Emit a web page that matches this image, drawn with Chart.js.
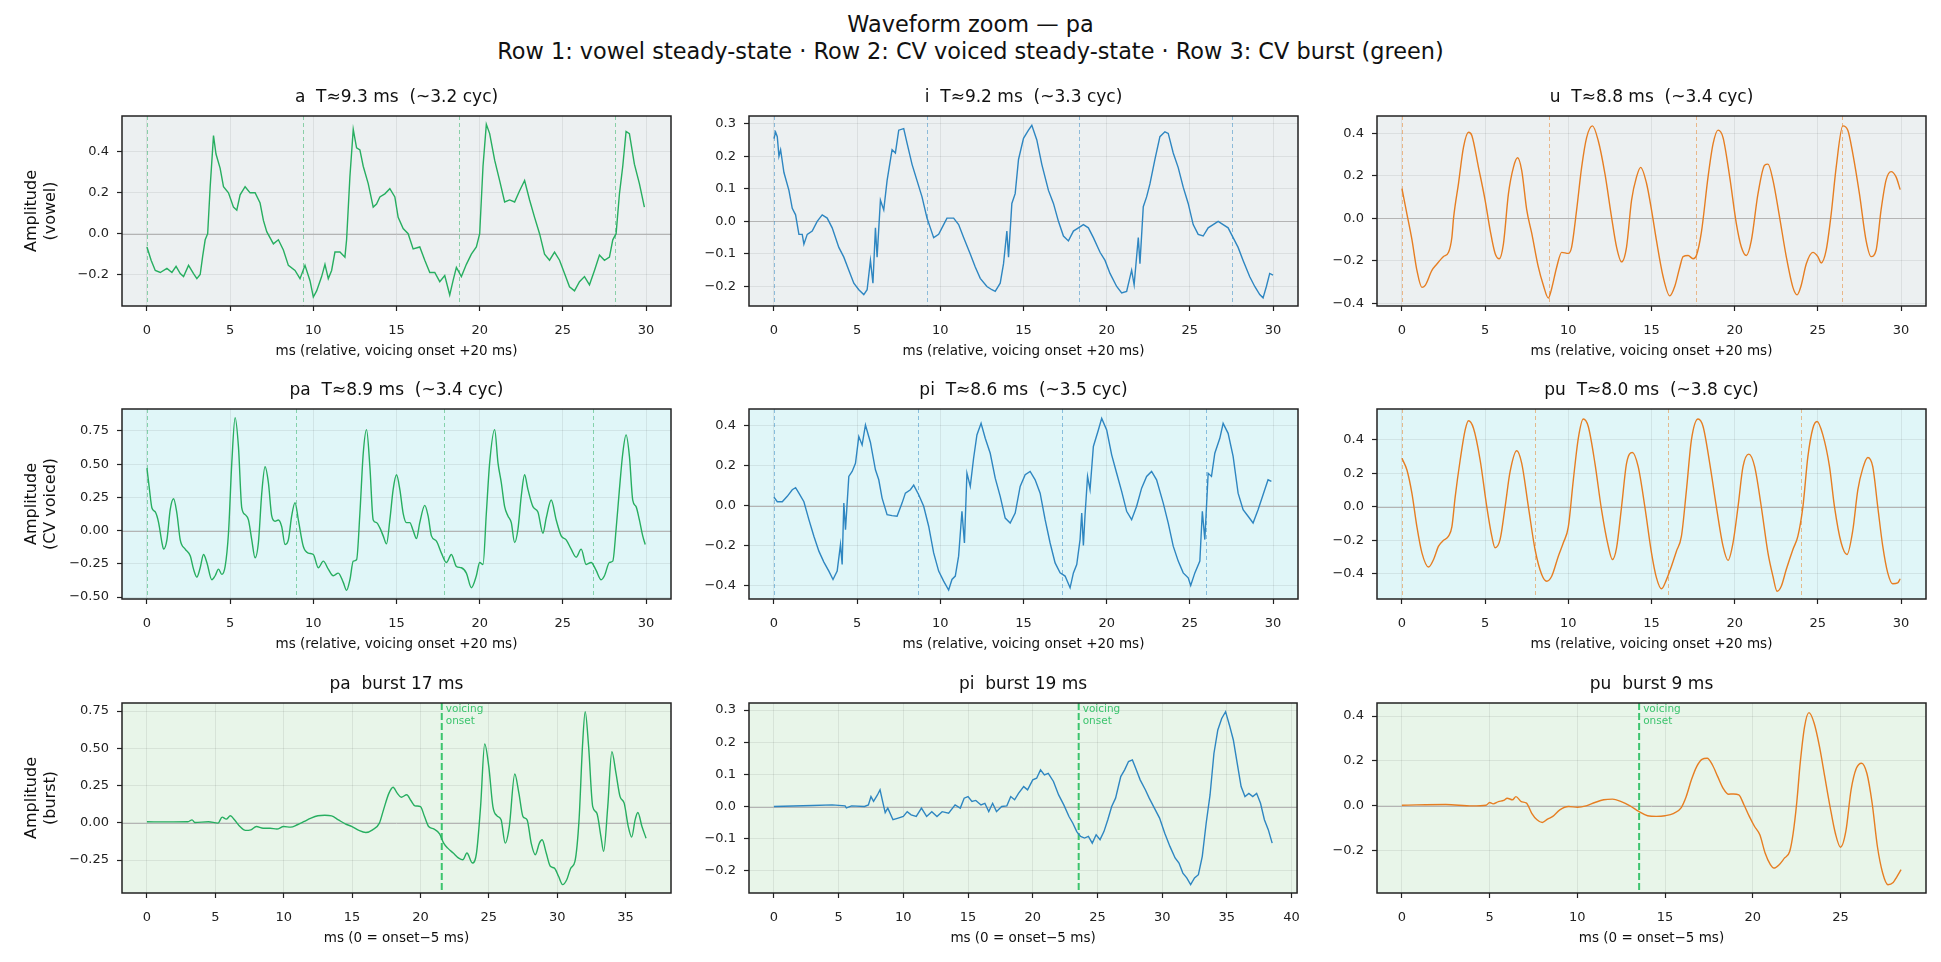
<!DOCTYPE html>
<html>
<head>
<meta charset="utf-8">
<script src="https://cdn.jsdelivr.net/npm/chart.js@4.4.1/dist/chart.umd.min.js"></script>
<style>
  body { margin: 0; background: #fff; width: 1941px; height: 962px; position: relative; overflow: hidden;
         font-family: "DejaVu Sans", sans-serif; color: #111; }
  .sup { position: absolute; left: 0; width: 1941px; text-align: center; font-size: 22.4px; line-height: 26px; }
  canvas { position: absolute; }
</style>
</head>
<body>
<div class="sup" style="top:11px">Waveform zoom — pa</div>
<div class="sup" style="top:38px">Row 1: vowel steady-state · Row 2: CV voiced steady-state · Row 3: CV burst (green)</div>

<script>
// ---- data: [ms, amplitude] ----
const vowelA = [[0,-0.065],[0.25,-0.13],[0.5,-0.18],[0.8,-0.19],[1.2,-0.17],[1.5,-0.19],[1.75,-0.16],[2.0,-0.195],[2.2,-0.21],[2.5,-0.155],[2.8,-0.195],[3.0,-0.22],[3.2,-0.2],[3.35,-0.11],[3.5,-0.03],[3.65,0],[3.8,0.23],[4.0,0.48],[4.15,0.39],[4.4,0.32],[4.6,0.23],[4.9,0.2],[5.2,0.13],[5.4,0.115],[5.6,0.19],[5.9,0.23],[6.2,0.2],[6.5,0.2],[6.8,0.15],[7.0,0.065],[7.2,0.01],[7.6,-0.05],[7.9,-0.03],[8.2,-0.08],[8.5,-0.155],[8.9,-0.18],[9.2,-0.22],[9.5,-0.155],[9.8,-0.23],[10.0,-0.31],[10.2,-0.28],[10.5,-0.21],[10.7,-0.15],[10.9,-0.22],[11.1,-0.18],[11.3,-0.09],[11.6,-0.09],[11.9,-0.115],[12.0,-0.03],[12.2,0.28],[12.4,0.51],[12.6,0.42],[12.8,0.41],[13.0,0.33],[13.3,0.245],[13.6,0.13],[13.8,0.145],[14.0,0.18],[14.3,0.195],[14.6,0.22],[14.9,0.18],[15.1,0.08],[15.4,0.025],[15.7,0],[16.0,-0.075],[16.4,-0.065],[16.7,-0.13],[17.0,-0.19],[17.3,-0.19],[17.6,-0.235],[17.9,-0.205],[18.2,-0.3],[18.4,-0.23],[18.6,-0.165],[18.9,-0.21],[19.2,-0.15],[19.5,-0.1],[19.8,-0.065],[20.0,0],[20.2,0.33],[20.4,0.535],[20.6,0.49],[20.9,0.36],[21.2,0.26],[21.5,0.155],[21.8,0.165],[22.1,0.155],[22.4,0.21],[22.7,0.26],[23.0,0.165],[23.3,0.08],[23.6,0],[23.9,-0.1],[24.2,-0.13],[24.5,-0.09],[24.8,-0.13],[25.1,-0.195],[25.4,-0.26],[25.7,-0.28],[26.0,-0.235],[26.3,-0.21],[26.6,-0.25],[26.9,-0.18],[27.2,-0.105],[27.5,-0.13],[27.8,-0.115],[28.0,-0.03],[28.2,0],[28.4,0.195],[28.6,0.33],[28.8,0.5],[29.0,0.49],[29.3,0.34],[29.6,0.245],[29.9,0.13]];

const vowelI = [[0,0.254],[0.1,0.274],[0.2,0.26],[0.3,0.2],[0.4,0.22],[0.6,0.15],[0.9,0.095],[1.1,0.04],[1.3,0.02],[1.5,-0.04],[1.7,-0.04],[1.8,-0.07],[2.0,-0.04],[2.3,-0.03],[2.6,0],[2.9,0.02],[3.2,0.01],[3.5,-0.02],[3.9,-0.08],[4.2,-0.11],[4.5,-0.15],[4.8,-0.19],[5.1,-0.21],[5.4,-0.225],[5.6,-0.21],[5.8,-0.12],[5.95,-0.19],[6.1,-0.02],[6.2,-0.11],[6.4,0.065],[6.6,0.035],[6.8,0.125],[7.1,0.22],[7.3,0.21],[7.5,0.28],[7.8,0.285],[8.0,0.24],[8.3,0.175],[8.6,0.125],[8.9,0.075],[9.2,0.01],[9.4,-0.02],[9.6,-0.05],[9.9,-0.04],[10.2,-0.01],[10.4,0.01],[10.8,0.01],[11.1,-0.01],[11.4,-0.05],[11.8,-0.1],[12.1,-0.14],[12.4,-0.175],[12.8,-0.2],[13.1,-0.21],[13.3,-0.215],[13.6,-0.19],[13.8,-0.13],[14.0,-0.03],[14.1,-0.11],[14.3,0.055],[14.5,0.085],[14.7,0.19],[15.0,0.255],[15.3,0.28],[15.5,0.295],[15.8,0.25],[16.1,0.175],[16.5,0.095],[16.8,0.055],[17.1,0],[17.4,-0.045],[17.7,-0.06],[18.0,-0.03],[18.3,-0.02],[18.6,-0.01],[18.9,-0.02],[19.2,-0.05],[19.6,-0.095],[19.9,-0.12],[20.2,-0.16],[20.6,-0.2],[20.9,-0.22],[21.2,-0.215],[21.5,-0.15],[21.65,-0.195],[21.9,-0.05],[22.0,-0.13],[22.2,0.045],[22.4,0.075],[22.6,0.115],[22.9,0.19],[23.2,0.26],[23.5,0.275],[23.7,0.27],[24.0,0.21],[24.3,0.165],[24.6,0.105],[24.9,0.055],[25.2,-0.01],[25.5,-0.04],[25.8,-0.045],[26.1,-0.02],[26.4,-0.01],[26.7,0],[27.0,-0.01],[27.3,-0.02],[27.6,-0.05],[27.9,-0.08],[28.2,-0.12],[28.6,-0.17],[28.9,-0.2],[29.2,-0.225],[29.4,-0.235],[29.6,-0.2],[29.8,-0.16],[30.0,-0.165]];

const vowelU = [[0,0.14],[0.3,0.02],[0.6,-0.1],[0.9,-0.245],[1.2,-0.325],[1.4,-0.315],[1.8,-0.245],[2.1,-0.215],[2.5,-0.18],[2.8,-0.16],[3.0,-0.09],[3.1,0],[3.4,0.165],[3.7,0.335],[4.0,0.405],[4.2,0.39],[4.6,0.24],[5.0,0.085],[5.3,-0.055],[5.6,-0.165],[5.85,-0.19],[6.1,-0.12],[6.4,0.115],[6.7,0.24],[6.95,0.285],[7.2,0.225],[7.5,0.04],[7.8,-0.07],[8.2,-0.23],[8.5,-0.315],[8.8,-0.375],[9.0,-0.33],[9.3,-0.23],[9.6,-0.16],[10.0,-0.165],[10.2,-0.135],[10.5,0.04],[10.8,0.24],[11.1,0.38],[11.45,0.435],[11.8,0.365],[12.2,0.21],[12.6,0.005],[12.9,-0.135],[13.2,-0.205],[13.5,-0.135],[13.8,0.085],[14.1,0.195],[14.35,0.24],[14.7,0.165],[15.0,0.04],[15.3,-0.105],[15.7,-0.275],[16.1,-0.365],[16.4,-0.32],[16.7,-0.23],[16.9,-0.18],[17.2,-0.175],[17.5,-0.19],[17.7,-0.175],[18.0,-0.065],[18.4,0.195],[18.7,0.35],[19.0,0.415],[19.3,0.38],[19.7,0.195],[20.1,-0.025],[20.4,-0.135],[20.7,-0.175],[21.0,-0.105],[21.4,0.115],[21.8,0.25],[22.0,0.255],[22.3,0.18],[22.7,0.005],[23.1,-0.18],[23.5,-0.325],[23.75,-0.36],[24.0,-0.315],[24.3,-0.215],[24.7,-0.16],[25.0,-0.18],[25.2,-0.21],[25.5,-0.15],[25.8,0.02],[26.1,0.24],[26.5,0.435],[26.8,0.415],[27.1,0.305],[27.5,0.115],[27.9,-0.105],[28.2,-0.18],[28.5,-0.15],[28.8,0.04],[29.1,0.18],[29.4,0.22],[29.7,0.195],[29.95,0.135]];

const voicedPa = [[0,0.47],[0.15,0.31],[0.3,0.17],[0.5,0.14],[0.7,0.06],[0.9,-0.09],[1.0,-0.14],[1.2,-0.07],[1.4,0.16],[1.6,0.24],[1.8,0.13],[2.0,-0.07],[2.3,-0.14],[2.6,-0.19],[2.8,-0.29],[3.0,-0.35],[3.2,-0.28],[3.4,-0.18],[3.6,-0.24],[3.9,-0.37],[4.1,-0.34],[4.3,-0.29],[4.5,-0.33],[4.7,-0.27],[4.9,-0.02],[5.1,0.51],[5.3,0.85],[5.5,0.63],[5.7,0.17],[5.9,0.12],[6.1,0.08],[6.3,-0.07],[6.5,-0.205],[6.7,-0.09],[6.9,0.28],[7.1,0.48],[7.3,0.36],[7.5,0.11],[7.7,0.07],[7.9,0.08],[8.1,0.03],[8.3,-0.105],[8.5,-0.07],[8.7,0.11],[8.9,0.21],[9.1,0.08],[9.4,-0.12],[9.7,-0.17],[10.0,-0.18],[10.3,-0.28],[10.6,-0.23],[10.9,-0.29],[11.2,-0.34],[11.5,-0.32],[11.8,-0.39],[12.0,-0.45],[12.2,-0.37],[12.4,-0.23],[12.6,-0.22],[12.8,0.13],[13.0,0.58],[13.2,0.76],[13.4,0.48],[13.6,0.08],[13.8,0.06],[14.0,0.02],[14.2,-0.04],[14.4,-0.1],[14.6,0.08],[14.8,0.31],[15.0,0.42],[15.2,0.31],[15.4,0.13],[15.6,0.06],[15.8,0.06],[16.0,0],[16.2,-0.06],[16.4,0.06],[16.7,0.19],[16.9,0.11],[17.1,-0.04],[17.4,-0.08],[17.7,-0.17],[18.0,-0.24],[18.3,-0.18],[18.6,-0.27],[18.9,-0.28],[19.2,-0.32],[19.5,-0.43],[19.8,-0.34],[20.0,-0.24],[20.2,-0.255],[20.4,0.13],[20.6,0.51],[20.9,0.76],[21.1,0.51],[21.3,0.36],[21.5,0.18],[21.7,0.11],[21.9,0.06],[22.1,-0.09],[22.3,0.01],[22.5,0.26],[22.7,0.42],[22.9,0.31],[23.2,0.18],[23.5,0.14],[23.8,-0.02],[24.0,0.095],[24.3,0.23],[24.6,0.08],[24.9,-0.04],[25.2,-0.07],[25.5,-0.14],[25.8,-0.2],[26.1,-0.14],[26.4,-0.255],[26.7,-0.24],[27.0,-0.3],[27.3,-0.37],[27.5,-0.34],[27.8,-0.24],[28.0,-0.23],[28.2,0.01],[28.4,0.31],[28.6,0.58],[28.8,0.72],[29.0,0.56],[29.2,0.23],[29.4,0.18],[29.6,0.08],[29.8,-0.04],[29.95,-0.105]];

const voicedPi = [[0,0.043],[0.2,0.02],[0.5,0.02],[0.8,0.047],[1.1,0.08],[1.3,0.09],[1.5,0.063],[1.8,0.02],[2.1,-0.07],[2.4,-0.153],[2.7,-0.228],[3.0,-0.283],[3.3,-0.328],[3.55,-0.37],[3.8,-0.328],[4.0,-0.195],[4.1,-0.295],[4.2,0.013],[4.3,-0.12],[4.5,0.147],[4.7,0.172],[4.9,0.213],[5.1,0.347],[5.3,0.305],[5.5,0.405],[5.8,0.317],[6.1,0.18],[6.3,0.13],[6.5,0.038],[6.8,-0.045],[7.1,-0.05],[7.4,-0.053],[7.7,0.013],[7.9,0.063],[8.2,0.08],[8.4,0.103],[8.7,0.055],[9.0,-0.003],[9.3,-0.103],[9.6,-0.237],[9.9,-0.328],[10.2,-0.378],[10.5,-0.423],[10.7,-0.37],[10.9,-0.353],[11.1,-0.253],[11.3,-0.028],[11.45,-0.187],[11.6,0.163],[11.8,0.097],[12.0,0.238],[12.2,0.355],[12.45,0.413],[12.7,0.338],[13.0,0.263],[13.3,0.138],[13.6,0.047],[13.9,-0.062],[14.2,-0.087],[14.5,-0.037],[14.8,0.097],[15.1,0.155],[15.4,0.172],[15.7,0.13],[16.0,0.063],[16.3,-0.07],[16.6,-0.187],[16.9,-0.287],[17.2,-0.337],[17.5,-0.353],[17.8,-0.412],[18.0,-0.337],[18.2,-0.295],[18.4,-0.17],[18.5,-0.037],[18.6,-0.2],[18.7,-0.045],[18.85,0.147],[19.0,0.08],[19.2,0.297],[19.5,0.38],[19.7,0.438],[20.0,0.38],[20.3,0.255],[20.6,0.163],[20.9,0.072],[21.2,-0.028],[21.5,-0.07],[21.8,-0.003],[22.1,0.088],[22.4,0.147],[22.7,0.172],[23.0,0.13],[23.4,0.013],[23.7,-0.087],[24.0,-0.203],[24.3,-0.278],[24.6,-0.337],[24.9,-0.362],[25.05,-0.4],[25.3,-0.337],[25.6,-0.278],[25.75,-0.028],[25.9,-0.17],[26.1,0.163],[26.3,0.147],[26.5,0.263],[26.8,0.338],[27.0,0.413],[27.3,0.363],[27.6,0.247],[27.9,0.063],[28.2,-0.02],[28.5,-0.053],[28.8,-0.087],[29.1,-0.02],[29.4,0.055],[29.7,0.13],[29.9,0.122]];

const voicedPu = [[0,0.29],[0.3,0.22],[0.6,0.08],[0.9,-0.12],[1.2,-0.275],[1.6,-0.36],[1.9,-0.315],[2.2,-0.235],[2.5,-0.2],[2.8,-0.175],[3.0,-0.12],[3.2,0.06],[3.5,0.28],[3.8,0.46],[4.0,0.515],[4.3,0.47],[4.7,0.28],[5.1,0],[5.4,-0.175],[5.6,-0.245],[5.9,-0.195],[6.2,0],[6.5,0.21],[6.9,0.335],[7.2,0.26],[7.6,0],[8.0,-0.255],[8.4,-0.405],[8.7,-0.445],[9.0,-0.415],[9.4,-0.295],[9.7,-0.215],[10.0,-0.12],[10.3,0.16],[10.6,0.41],[10.9,0.525],[11.2,0.48],[11.6,0.26],[12.0,-0.02],[12.4,-0.235],[12.65,-0.315],[12.9,-0.245],[13.2,0],[13.5,0.26],[13.85,0.325],[14.2,0.24],[14.6,0],[15.0,-0.275],[15.3,-0.425],[15.6,-0.49],[15.9,-0.435],[16.2,-0.355],[16.5,-0.265],[16.8,-0.175],[17.1,0.1],[17.4,0.4],[17.8,0.525],[18.1,0.48],[18.5,0.26],[18.9,0],[19.3,-0.235],[19.6,-0.32],[19.9,-0.215],[20.2,0],[20.5,0.24],[20.85,0.315],[21.2,0.24],[21.6,0],[22.0,-0.275],[22.3,-0.415],[22.55,-0.505],[22.8,-0.475],[23.1,-0.375],[23.5,-0.255],[23.8,-0.175],[24.1,0],[24.4,0.3],[24.7,0.47],[24.95,0.51],[25.3,0.43],[25.7,0.24],[26.0,0],[26.4,-0.215],[26.75,-0.285],[27.1,-0.14],[27.4,0.1],[27.7,0.23],[28.0,0.295],[28.3,0.24],[28.6,0],[28.9,-0.235],[29.2,-0.395],[29.5,-0.46],[29.8,-0.455],[29.95,-0.43]];

const burstPa = [[0,0.007],[1.5,0.006],[3.0,0.007],[3.3,0.02],[3.5,0.002],[4.5,0.007],[5.2,-0.002],[5.5,0.038],[5.8,0.025],[6.1,0.047],[6.4,0.02],[6.8,-0.025],[7.2,-0.051],[7.6,-0.047],[8.0,-0.025],[8.5,-0.036],[9.0,-0.036],[9.5,-0.042],[10.0,-0.025],[10.5,-0.029],[11.0,-0.013],[11.5,0.009],[12.0,0.031],[12.5,0.047],[13.0,0.051],[13.5,0.047],[14.0,0.02],[14.5,-0.007],[15.0,-0.025],[15.5,-0.051],[16.0,-0.065],[16.5,-0.047],[17.0,-0.002],[17.3,0.087],[17.7,0.199],[18.0,0.239],[18.3,0.199],[18.6,0.172],[19.0,0.188],[19.3,0.15],[19.6,0.114],[20.0,0.109],[20.3,0.042],[20.6,-0.025],[21.0,-0.042],[21.4,-0.074],[21.7,-0.136],[22.0,-0.17],[22.4,-0.203],[22.8,-0.237],[23.1,-0.248],[23.4,-0.203],[23.8,-0.27],[24.1,-0.203],[24.4,0.109],[24.7,0.529],[25.0,0.377],[25.3,0.109],[25.6,0.047],[25.9,0.02],[26.2,-0.136],[26.5,-0.025],[26.9,0.328],[27.2,0.199],[27.5,0.042],[27.8,0.02],[28.1,-0.136],[28.4,-0.214],[28.7,-0.136],[28.9,-0.114],[29.2,-0.203],[29.5,-0.292],[29.8,-0.304],[30.1,-0.359],[30.4,-0.415],[30.7,-0.382],[31.0,-0.304],[31.3,-0.259],[31.6,0.02],[31.85,0.511],[32.05,0.746],[32.3,0.511],[32.6,0.109],[32.9,0.065],[33.2,-0.092],[33.4,-0.192],[33.7,0.109],[34.0,0.478],[34.3,0.333],[34.6,0.176],[34.9,0.132],[35.2,-0.025],[35.45,-0.096],[35.7,0.02],[35.9,0.069],[36.2,-0.025],[36.5,-0.103]];

const burstPi = [[0,0],[3.0,0.003],[4.5,0.005],[5.5,0.002],[5.6,-0.004],[6.0,0.002],[7.0,0],[7.3,0.005],[7.5,0.031],[7.7,0.016],[8.0,0.036],[8.2,0.052],[8.4,0.016],[8.6,-0.019],[8.8,-0.005],[9.2,-0.041],[9.6,-0.036],[10.0,-0.031],[10.3,-0.016],[10.6,-0.026],[11.0,-0.031],[11.4,-0.005],[11.8,-0.031],[12.2,-0.016],[12.6,-0.031],[13.0,-0.016],[13.5,-0.021],[14.0,0.005],[14.4,-0.005],[14.7,0.026],[15.0,0.031],[15.3,0.016],[15.6,0.019],[16.0,0.005],[16.3,0.01],[16.6,-0.016],[16.9,0.01],[17.2,-0.016],[17.6,0],[18.0,0.002],[18.3,0.031],[18.6,0.021],[18.9,0.041],[19.3,0.062],[19.6,0.052],[20.0,0.083],[20.3,0.088],[20.6,0.114],[20.9,0.098],[21.2,0.103],[21.6,0.078],[22.0,0.036],[22.4,0.005],[22.8,-0.031],[23.1,-0.052],[23.4,-0.078],[23.7,-0.093],[24.0,-0.098],[24.3,-0.093],[24.6,-0.114],[24.9,-0.088],[25.2,-0.103],[25.5,-0.078],[25.8,-0.041],[26.1,0],[26.4,0.026],[26.8,0.093],[27.1,0.114],[27.4,0.14],[27.7,0.145],[28.0,0.114],[28.3,0.083],[28.7,0.052],[29.0,0.026],[29.4,-0.005],[29.8,-0.036],[30.2,-0.083],[30.6,-0.124],[31.0,-0.16],[31.3,-0.176],[31.6,-0.207],[31.9,-0.222],[32.2,-0.243],[32.5,-0.222],[32.8,-0.212],[33.1,-0.155],[33.4,-0.052],[33.7,0.036],[34.0,0.165],[34.3,0.238],[34.6,0.274],[34.9,0.295],[35.2,0.253],[35.5,0.207],[35.8,0.134],[36.1,0.062],[36.4,0.031],[36.7,0.041],[37.0,0.031],[37.3,0.041],[37.6,0.01],[37.9,-0.041],[38.2,-0.072],[38.5,-0.114]];

const burstPu = [[0,0.003],[2.5,0.006],[4.0,0],[4.8,0.003],[5.0,0.015],[5.2,0.009],[5.5,0.019],[5.8,0.024],[6.0,0.034],[6.3,0.027],[6.5,0.041],[6.8,0.019],[7.1,0.012],[7.4,-0.033],[7.7,-0.062],[8.0,-0.074],[8.3,-0.059],[8.6,-0.047],[9.0,-0.018],[9.5,-0.003],[10.0,-0.006],[10.5,0],[11.0,0.015],[11.5,0.027],[12.0,0.03],[12.5,0.019],[13.0,0],[13.5,-0.025],[14.0,-0.044],[14.5,-0.047],[15.0,-0.044],[15.5,-0.033],[15.9,-0.01],[16.2,0.041],[16.5,0.116],[16.8,0.175],[17.1,0.207],[17.4,0.212],[17.7,0.182],[18.0,0.13],[18.3,0.079],[18.6,0.052],[18.9,0.053],[19.2,0.049],[19.5,0.004],[19.8,-0.047],[20.1,-0.092],[20.4,-0.129],[20.7,-0.21],[21.0,-0.262],[21.2,-0.277],[21.5,-0.262],[21.8,-0.233],[22.1,-0.203],[22.3,-0.121],[22.5,0.012],[22.7,0.19],[22.95,0.353],[23.2,0.415],[23.5,0.367],[23.8,0.264],[24.1,0.13],[24.4,-0.003],[24.7,-0.121],[25.0,-0.184],[25.3,-0.114],[25.6,0.071],[25.9,0.167],[26.2,0.19],[26.5,0.145],[26.8,0.012],[27.1,-0.181],[27.4,-0.299],[27.7,-0.351],[28.0,-0.341],[28.2,-0.317],[28.45,-0.284]];

// period markers (k * T) and voicing onset, in ms
const periodsA = [0, 9.38, 18.76, 28.14];
const periodsI = [0, 9.18, 18.35, 27.53];
const periodsU = [0, 8.83, 17.65, 26.48];
const periodsPa = [0, 8.93, 17.86, 26.8];
const periodsPi = [0, 8.67, 17.33, 25.98];
const periodsPu = [0, 8.0, 16.0, 24.0];
const onsetPa = 21.56, onsetPi = 23.55, onsetPu = 13.52;

// titles and tick labels
const titles = ['a  T\u22489.3 ms  (~3.2 cyc)', 'i  T\u22489.2 ms  (~3.3 cyc)', 'u  T\u22488.8 ms  (~3.4 cyc)',
                'pa  T\u22488.9 ms  (~3.4 cyc)', 'pi  T\u22488.6 ms  (~3.5 cyc)', 'pu  T\u22488.0 ms  (~3.8 cyc)',
                'pa  burst 17 ms', 'pi  burst 19 ms', 'pu  burst 9 ms'];
const rowYLabels = [['Amplitude', '(vowel)'], ['Amplitude', '(CV voiced)'], ['Amplitude', '(burst)']];
const xLabelSteady = 'ms (relative, voicing onset +20 ms)';
const xLabelBurst = 'ms (0 = onset\u22125 ms)';
const xTicks30 = [0, 5, 10, 15, 20, 25, 30];
const xTicksBurstPa = [0, 5, 10, 15, 20, 25, 30, 35];
const xTicksBurstPi = [0, 5, 10, 15, 20, 25, 30, 35, 40];
const xTicksBurstPu = [0, 5, 10, 15, 20, 25];
const yTicksA = [-0.2, 0, 0.2, 0.4];
const yTicksI = [-0.2, -0.1, 0, 0.1, 0.2, 0.3];
const yTicksU = [-0.4, -0.2, 0, 0.2, 0.4];
const yTicksPa = [-0.5, -0.25, 0, 0.25, 0.5, 0.75];
const yTicksPi = [-0.4, -0.2, 0, 0.2, 0.4];
const yTicksPu = [-0.4, -0.2, 0, 0.2, 0.4];
const yTicksBurstPa = [-0.25, 0, 0.25, 0.5, 0.75];
const yTicksBurstPi = [-0.2, -0.1, 0, 0.1, 0.2, 0.3];
const yTicksBurstPu = [-0.2, 0, 0.2, 0.4];

// ---- styling / layout ----
const GREEN = '#27ae60', BLUE = '#2e86c1', ORANGE = '#e67e22', ONSET = '#3cc46e';
const ROW_BG = ['#ecf0f1', '#e0f6f8', '#e8f5e9'];
const COL_LEFT = [122, 749, 1377], ROW_TOP = [116, 409, 703];
const PW = 549, PH = 190, TH = 28, XH = 58, RPAD = 14;

function alpha(hex, a) {
  const n = parseInt(hex.slice(1), 16);
  return `rgba(${n >> 16},${(n >> 8) & 255},${n & 255},${a})`;
}
function fmt(v, d) {
  const s = Math.abs(v).toFixed(d);
  return (v < -1e-9 ? '\u2212' : '') + s;
}

const panels = [
  {data: vowelA, color: GREEN, periods: periodsA, xr: [-1.5, 31.5], yr: [-0.354, 0.576], xt: xTicks30, yt: yTicksA, dec: 1, smooth: false},
  {data: vowelI, color: BLUE, periods: periodsI, xr: [-1.5, 31.5], yr: [-0.26, 0.3235], xt: xTicks30, yt: yTicksI, dec: 1, smooth: false},
  {data: vowelU, color: ORANGE, periods: periodsU, xr: [-1.5, 31.5], yr: [-0.4125, 0.4816], xt: xTicks30, yt: yTicksU, dec: 1, smooth: true},
  {data: voicedPa, color: GREEN, periods: periodsPa, xr: [-1.5, 31.5], yr: [-0.515, 0.915], xt: xTicks30, yt: yTicksPa, dec: 2, smooth: true},
  {data: voicedPi, color: BLUE, periods: periodsPi, xr: [-1.5, 31.5], yr: [-0.468, 0.485], xt: xTicks30, yt: yTicksPi, dec: 1, smooth: false},
  {data: voicedPu, color: ORANGE, periods: periodsPu, xr: [-1.5, 31.5], yr: [-0.551, 0.585], xt: xTicks30, yt: yTicksPu, dec: 1, smooth: true},
  {data: burstPa, color: GREEN, onset: onsetPa, xr: [-1.825, 38.325], yr: [-0.471, 0.804], xt: xTicksBurstPa, yt: yTicksBurstPa, dec: 2, smooth: true},
  {data: burstPi, color: BLUE, onset: onsetPi, xr: [-1.925, 40.425], yr: [-0.269, 0.322], xt: xTicksBurstPi, yt: yTicksBurstPi, dec: 1, smooth: false},
  {data: burstPu, color: ORANGE, onset: onsetPu, xr: [-1.42, 29.87], yr: [-0.388, 0.458], xt: xTicksBurstPu, yt: yTicksBurstPu, dec: 1, smooth: true}
];

Chart.defaults.font.family = '"DejaVu Sans", sans-serif';
Chart.defaults.color = '#222';

// background, zero line, period / onset markers and the four spines
function decor(p, bg) {
  return {
    id: 'decor',
    beforeDraw(chart) {
      const {ctx, chartArea: a} = chart;
      ctx.save();
      ctx.fillStyle = bg;
      ctx.fillRect(a.left, a.top, a.width, a.height);
      ctx.restore();
    },
    beforeDatasetsDraw(chart) {
      const {ctx, chartArea: a, scales: {x, y}} = chart;
      ctx.save();
      ctx.beginPath(); ctx.rect(a.left, a.top, a.width, a.height); ctx.clip();
      const y0 = Math.round(y.getPixelForValue(0)) + 0.5;
      ctx.strokeStyle = '#b4b4b4'; ctx.lineWidth = 1;
      ctx.beginPath(); ctx.moveTo(a.left, y0); ctx.lineTo(a.right, y0); ctx.stroke();
      if (p.periods) {
        ctx.strokeStyle = alpha(p.color, 0.5); ctx.lineWidth = 1; ctx.setLineDash([4, 3]);
        p.periods.forEach(t => {
          const px = Math.round(x.getPixelForValue(t)) + 0.5;
          ctx.beginPath(); ctx.moveTo(px, a.top); ctx.lineTo(px, a.bottom); ctx.stroke();
        });
      }
      if (p.onset != null) {
        const px = x.getPixelForValue(p.onset);
        ctx.strokeStyle = ONSET; ctx.lineWidth = 2; ctx.setLineDash([7, 3]);
        ctx.beginPath(); ctx.moveTo(px, a.top); ctx.lineTo(px, a.bottom); ctx.stroke();
      }
      ctx.restore();
    },
    afterDraw(chart) {
      const {ctx, chartArea: a, scales: {x}} = chart;
      ctx.save();
      if (p.onset != null) {
        const px = x.getPixelForValue(p.onset);
        ctx.fillStyle = ONSET; ctx.font = '10.5px "DejaVu Sans"'; ctx.textBaseline = 'top';
        ctx.fillText('voicing', px + 4, a.top + 1);
        ctx.fillText('onset', px + 4, a.top + 13);
      }
      ctx.strokeStyle = '#222'; ctx.lineWidth = 1.5;
      ctx.strokeRect(a.left, a.top, a.width, a.height);
      ctx.restore();
    }
  };
}

panels.forEach((p, i) => {
  const row = Math.floor(i / 3), col = i % 3;
  const yw = col === 0 ? 122 : 75;
  const cv = document.createElement('canvas');
  cv.width = yw + PW + RPAD;
  cv.height = TH + PH + XH;
  cv.style.left = (COL_LEFT[col] - yw) + 'px';
  cv.style.top = (ROW_TOP[row] - TH) + 'px';
  document.body.appendChild(cv);

  new Chart(cv.getContext('2d'), {
    type: 'line',
    data: {
      datasets: [{
        data: p.data.map(([t, v]) => ({x: t, y: v})),
        borderColor: p.color,
        borderWidth: 1.4,
        pointRadius: 0,
        fill: false,
        tension: 0,
        cubicInterpolationMode: p.smooth ? 'monotone' : 'default'
      }]
    },
    options: {
      responsive: false,
      animation: false,
      devicePixelRatio: 1,
      layout: {padding: {right: RPAD}},
      plugins: {
        legend: {display: false},
        tooltip: {enabled: false},
        title: {
          display: true, text: titles[i], color: '#111', fullSize: false,
          font: {size: 17, weight: 'normal', lineHeight: 20 / 17},
          padding: {top: 0, bottom: 8}
        }
      },
      scales: {
        x: {
          type: 'linear', min: p.xr[0], max: p.xr[1], bounds: 'data',
          afterBuildTicks: s => { s.ticks = p.xt.map(v => ({value: v})); },
          afterFit: s => { s.height = XH; },
          grid: {color: 'rgba(0,0,0,0.07)', lineWidth: 1, tickLength: 5, tickColor: '#222', tickWidth: 1.2},
          border: {display: false},
          ticks: {autoSkip: false, maxRotation: 0, padding: 12, color: '#222', font: {size: 13},
                  callback: v => String(v)},
          title: {display: true, text: row === 2 ? xLabelBurst : xLabelSteady, color: '#111',
                  font: {size: 13.5}, padding: {top: 0, bottom: 4}}
        },
        y: {
          type: 'linear', min: p.yr[0], max: p.yr[1], bounds: 'data',
          afterBuildTicks: s => { s.ticks = p.yt.map(v => ({value: v})); },
          afterFit: s => { s.width = yw; },
          grid: {color: 'rgba(0,0,0,0.07)', lineWidth: 1, tickLength: 5, tickColor: '#222', tickWidth: 1.2},
          border: {display: false},
          ticks: {autoSkip: false, padding: 8, color: '#222', font: {size: 13},
                  callback: v => fmt(v, p.dec)},
          title: {display: col === 0, text: rowYLabels[row], color: '#111',
                  font: {size: 16}, padding: {top: 22, bottom: 0}}
        }
      }
    },
    plugins: [decor(p, ROW_BG[row])]
  });
});
</script>
</body>
</html>
